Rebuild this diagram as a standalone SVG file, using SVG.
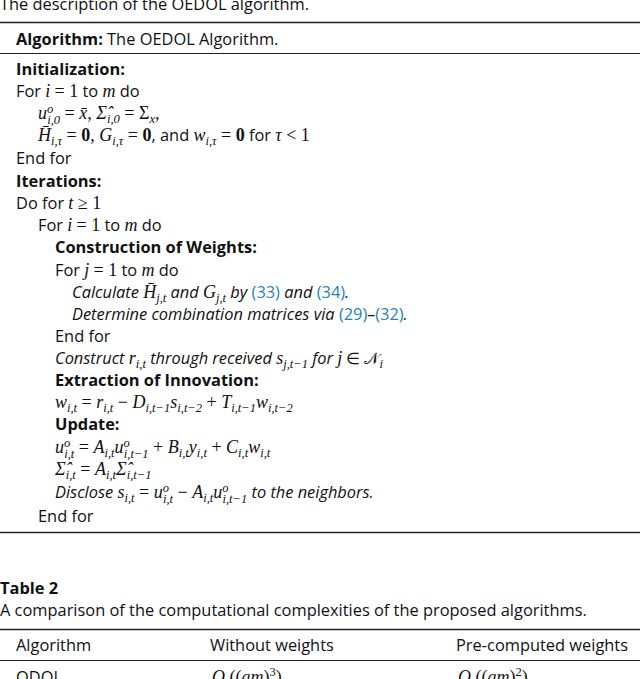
<svg xmlns="http://www.w3.org/2000/svg" width="640" height="679" viewBox="0 0 640 679">
<style>
text{font-family:"Open Sans","Noto Sans",sans-serif;font-size:16.4px;fill:#111}
.b{font-weight:bold}
.i{font-style:italic}
.m{font-family:"Liberation Serif",serif;font-style:italic;font-size:18px}
.r{font-family:"Liberation Serif",serif;font-style:normal}
.s{font-size:12.5px}
.c{fill:#2a7fb8}
line{stroke:#222}
</style>
<rect width="640" height="679" fill="#fff"/>
<g id="caption"><text x="0" y="10">The description of the OEDOL algorithm.</text></g>
<g id="rules">
<line x1="0" y1="22.5" x2="640" y2="22.5" stroke-width="1.5"/>
<line x1="0" y1="53.5" x2="640" y2="53.5" stroke-width="1"/>
<line x1="0" y1="532.5" x2="640" y2="532.5" stroke-width="1.5"/>
<line x1="0" y1="629.5" x2="640" y2="629.5" stroke-width="1.5"/>
<line x1="0" y1="660.5" x2="640" y2="660.5" stroke-width="1"/>
</g>
<g id="algorithm">
<text x="16" y="45"><tspan class="b">Algorithm:</tspan> The OEDOL Algorithm.</text>
<text x="16" y="75" class="b">Initialization:</text>
<text x="16" y="97">For <tspan class="m">i</tspan> <tspan class="r" font-size="18">= 1</tspan> to <tspan class="m">m</tspan> do</text>
<text x="38" y="119" class="m">u<tspan class="s" dy="-6">o</tspan><tspan class="s" dx="-6" dy="11">i,0</tspan><tspan dy="-5" class="r"> = </tspan>x̄, Σ̂<tspan class="s" dy="4">i,0</tspan><tspan dy="-4" class="r"> = Σ</tspan><tspan class="s" dy="4">x</tspan><tspan dy="-4">,</tspan></text>
<text x="38" y="141"><tspan class="m">H̄</tspan><tspan class="m s" dy="4">i,τ</tspan><tspan dy="-4" class="r" font-size="18"> = <tspan font-weight="bold">0</tspan>, </tspan><tspan class="m">G</tspan><tspan class="m s" dy="4">i,τ</tspan><tspan dy="-4" class="r" font-size="18"> = <tspan font-weight="bold">0</tspan></tspan>, and <tspan class="m">w</tspan><tspan class="m s" dy="4">i,τ</tspan><tspan dy="-4" class="r" font-size="18"> = <tspan font-weight="bold">0</tspan></tspan> for <tspan class="m">τ</tspan><tspan class="r" font-size="18"> &lt; 1</tspan></text>
<text x="16" y="164">End for</text>
<text x="16" y="187" class="b">Iterations:</text>
<text x="16" y="209">Do for <tspan class="m">t</tspan><tspan class="r" font-size="18"> ≥ 1</tspan></text>
<text x="38" y="231">For <tspan class="m">i</tspan> <tspan class="r" font-size="18">= 1</tspan> to <tspan class="m">m</tspan> do</text>
<text x="55" y="253" class="b">Construction of Weights:</text>
<text x="55" y="276">For <tspan class="m">j</tspan> <tspan class="r" font-size="18">= 1</tspan> to <tspan class="m">m</tspan> do</text>
<text x="72" y="298" class="i">Calculate <tspan class="m">H̄</tspan><tspan class="m s" dy="4">j,t</tspan><tspan dy="-4"> and </tspan><tspan class="m">G</tspan><tspan class="m s" dy="4">j,t</tspan><tspan dy="-4"> by </tspan><tspan class="c" font-style="normal">(33)</tspan> and <tspan class="c" font-style="normal">(34)</tspan>.</text>
<text x="72" y="320" class="i">Determine combination matrices via <tspan class="c" font-style="normal">(29)</tspan>–<tspan class="c" font-style="normal">(32)</tspan>.</text>
<text x="55" y="342">End for</text>
<text x="55" y="364" class="i">Construct <tspan class="m">r</tspan><tspan class="m s" dy="4">i,t</tspan><tspan dy="-4"> through received </tspan><tspan class="m">s</tspan><tspan class="m s" dy="4">j,t−1</tspan><tspan dy="-4"> for </tspan><tspan class="m">j</tspan><tspan class="r"> ∈ 𝒩</tspan><tspan class="m s" dy="4">i</tspan></text>
<text x="55" y="386" class="b">Extraction of Innovation:</text>
<text x="55" y="408" class="m">w<tspan class="s" dy="4">i,t</tspan><tspan dy="-4" class="r"> = </tspan>r<tspan class="s" dy="4">i,t</tspan><tspan dy="-4" class="r"> − </tspan>D<tspan class="s" dy="4">i,t−1</tspan><tspan dy="-4">s</tspan><tspan class="s" dy="4">i,t−2</tspan><tspan dy="-4" class="r"> + </tspan>T<tspan class="s" dy="4">i,t−1</tspan><tspan dy="-4">w</tspan><tspan class="s" dy="4">i,t−2</tspan></text>
<text x="55" y="430" class="b">Update:</text>
<text x="55" y="453" class="m">u<tspan class="s" dy="-6">o</tspan><tspan class="s" dx="-6" dy="11">i,t</tspan><tspan dy="-5" class="r"> = </tspan>A<tspan class="s" dy="4">i,t</tspan><tspan dy="-4">u</tspan><tspan class="s" dy="-6">o</tspan><tspan class="s" dx="-6" dy="11">i,t−1</tspan><tspan dy="-5" class="r"> + </tspan>B<tspan class="s" dy="4">i,t</tspan><tspan dy="-4">y</tspan><tspan class="s" dy="4">i,t</tspan><tspan dy="-4" class="r"> + </tspan>C<tspan class="s" dy="4">i,t</tspan><tspan dy="-4">w</tspan><tspan class="s" dy="4">i,t</tspan></text>
<text x="55" y="475" class="m">Σ̂<tspan class="s" dy="4">i,t</tspan><tspan dy="-4" class="r"> = </tspan>A<tspan class="s" dy="4">i,t</tspan><tspan dy="-4">Σ̂</tspan><tspan class="s" dy="4">i,t−1</tspan></text>
<text x="55" y="498" class="i">Disclose <tspan class="m">s</tspan><tspan class="m s" dy="4">i,t</tspan><tspan dy="-4" class="r" font-size="18" font-style="normal"> = </tspan><tspan class="m">u</tspan><tspan class="m s" dy="-6">o</tspan><tspan class="m s" dx="-6" dy="11">i,t</tspan><tspan dy="-5" class="r" font-size="18" font-style="normal"> − </tspan><tspan class="m">A</tspan><tspan class="m s" dy="4">i,t</tspan><tspan dy="-4" class="m">u</tspan><tspan class="m s" dy="-6">o</tspan><tspan class="m s" dx="-6" dy="11">i,t−1</tspan><tspan dy="-5"> to the neighbors.</tspan></text>
<text x="38" y="522">End for</text>
</g>
<g id="table2">
<text x="0" y="594" class="b">Table 2</text>
<text x="0" y="616">A comparison of the computational complexities of the proposed algorithms.</text>
<text x="16" y="651">Algorithm</text>
<text x="210" y="651">Without weights</text>
<text x="456" y="651">Pre-computed weights</text>
<text x="16" y="683">ODOL</text>
<text x="212" y="683" class="m">O <tspan class="r">((</tspan>am<tspan class="r">)<tspan class="s" dy="-7">3</tspan><tspan dy="7">)</tspan></tspan></text>
<text x="458" y="683" class="m">O <tspan class="r">((</tspan>am<tspan class="r">)<tspan class="s" dy="-7">2</tspan><tspan dy="7">)</tspan></tspan></text>
</g>
</svg>
